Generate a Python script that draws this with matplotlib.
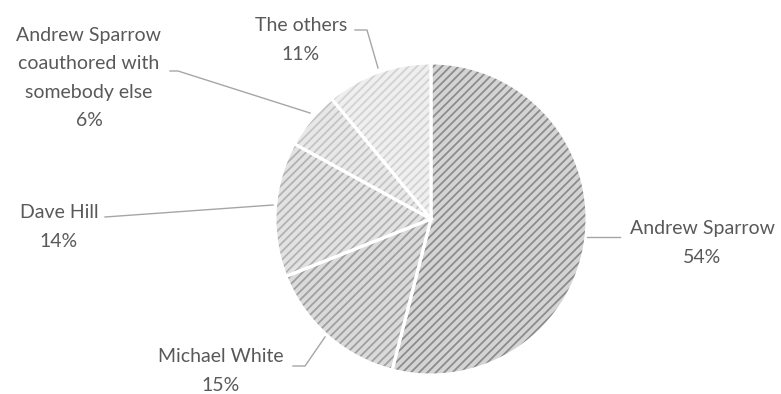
import matplotlib.pyplot as plt

plt.rcParams['font.family'] = ['Lato', 'DejaVu Sans']
plt.rcParams['font.size'] = 14
plt.rcParams['hatch.linewidth'] = 1.3

authors = ['Andrew Sparrow', 'Michael White', 'Dave Hill',
           'Andrew Sparrow\ncoauthored with\nsomebody else', 'The others']
shares = [54, 15, 14, 6, 11]
pct_labels = ['54%', '15%', '14%', '6%', '11%']

face_colors = ['#d4d4d4', '#dadada', '#e2e2e2', '#e8e8e8', '#efefef']
hatch_colors = ['#8c8c8c', '#a0a0a0', '#b2b2b2', '#c4c4c4', '#d2d2d2']

# label anchor (text centre, pixels from top-left) and leader polyline
label_pos = [(702, 243), (221, 371), (59, 227), (89, 78), (301, 40)]
leaders = [
    [(620, 237), (587, 237)],
    [(293, 366), (305, 366), (325, 337)],
    [(105, 217), (273, 205)],
    [(170, 71), (178, 71), (310, 113)],
    [(355, 30), (367, 30), (378, 68)],
]

W, H = 781, 394
cx, cy, r = 431, 219, 156

fig = plt.figure(figsize=(W / 100, H / 100), dpi=100)
ax = fig.add_axes([0, 0, 1, 1])

wedges, _ = ax.pie(shares, startangle=90, counterclock=False,
                   center=(cx, H - cy), radius=r, colors=face_colors,
                   wedgeprops=dict(linewidth=0))
for w, hc in zip(wedges, hatch_colors):
    w.set_hatch('////')
    w.set_edgecolor(hc)
    w.set_linewidth(0)

# white separators between slices
ax.pie(shares, startangle=90, counterclock=False, center=(cx, H - cy),
       radius=r, colors=['none'] * len(shares),
       wedgeprops=dict(linewidth=2.2, edgecolor='white', fill=False))

for name, pct, (tx, ty), pts in zip(authors, pct_labels, label_pos, leaders):
    ax.text(tx, H - ty, name + '\n' + pct, ha='center', va='center',
            color='#595959', linespacing=1.8)
    xs = [p[0] for p in pts]
    ys = [H - p[1] for p in pts]
    ax.plot(xs, ys, color='#a6a6a6', lw=1)

ax.set_xlim(0, W)
ax.set_ylim(0, H)
ax.set_aspect('auto')
ax.axis('off')

fig.savefig('out.png', dpi=100)
